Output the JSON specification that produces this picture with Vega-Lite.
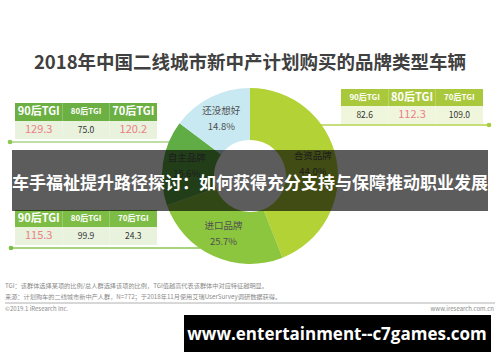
{
  "$schema": "https://vega.github.io/schema/vega-lite/v6.json",
  "width": 500,
  "height": 362,
  "autosize": {"type": "fit", "contains": "padding"},
  "padding": 0,
  "background": "white",
  "config": {"view": {"stroke": null}, "font": "Noto Sans CJK SC"},
  "datasets": {
    "share": [
      {"brand": "合资品牌", "pct": 44.0, "label": "44.0%"},
      {"brand": "进口品牌", "pct": 25.7, "label": "25.7%"},
      {"brand": "自主品牌", "pct": 15.6, "label": "15.6%"},
      {"brand": "还没想好", "pct": 14.8, "label": "14.8%"}
    ],
    "tgi": [
      {"panel": "自主品牌", "gen": "90后TGI", "tgi": 129.3},
      {"panel": "自主品牌", "gen": "80后TGI", "tgi": 75.0},
      {"panel": "自主品牌", "gen": "70后TGI", "tgi": 120.2},
      {"panel": "合资品牌", "gen": "90后TGI", "tgi": 82.6},
      {"panel": "合资品牌", "gen": "80后TGI", "tgi": 112.3},
      {"panel": "合资品牌", "gen": "70后TGI", "tgi": 109.0},
      {"panel": "进口品牌", "gen": "90后TGI", "tgi": 115.3},
      {"panel": "进口品牌", "gen": "80后TGI", "tgi": 99.9},
      {"panel": "进口品牌", "gen": "70后TGI", "tgi": 24.3}
    ],
    "one": [{"k": 1}]
  },
  "layer": [
    {
      "data": {"name": "one"},
      "layer": [
        {"mark": {"type": "text", "fontSize": 18.5, "fontWeight": "bold", "color": "#404040", "font": "Noto Sans CJK SC"},
         "encoding": {"x": {"datum": 250, "type": "quantitative", "scale": {"domain": [0, 500], "nice": false, "zero": false}, "axis": null},
                      "y": {"datum": 63, "type": "quantitative", "scale": {"domain": [0, 362], "nice": false, "zero": false, "reverse": true}, "axis": null},
                      "text": {"value": "2018年中国二线城市新中产计划购买的品牌类型车辆"}}},
        {"mark": {"type": "rule", "color": "#a8d28a", "strokeWidth": 1.5},
         "encoding": {"x": {"datum": 10, "type": "quantitative"}, "x2": {"datum": 185}, "y": {"datum": 142, "type": "quantitative"}}},
        {"mark": {"type": "rule", "color": "#b4d24e", "strokeWidth": 1.5},
         "encoding": {"x": {"datum": 315, "type": "quantitative"}, "x2": {"datum": 489}, "y": {"datum": 125, "type": "quantitative"}}},
        {"mark": {"type": "rule", "color": "#8cc653", "strokeWidth": 1.5},
         "encoding": {"x": {"datum": 11, "type": "quantitative"}, "x2": {"datum": 200}, "y": {"datum": 248, "type": "quantitative"}}},
        {"mark": {"type": "point", "filled": true, "size": 22, "color": "#8cc653", "opacity": 1},
         "encoding": {"x": {"datum": 10, "type": "quantitative"}, "y": {"datum": 142, "type": "quantitative"}}},
        {"mark": {"type": "point", "filled": true, "size": 22, "color": "#a9cc3c", "opacity": 1},
         "encoding": {"x": {"datum": 489, "type": "quantitative"}, "y": {"datum": 125, "type": "quantitative"}}},
        {"mark": {"type": "point", "filled": true, "size": 22, "color": "#7dbd45", "opacity": 1},
         "encoding": {"x": {"datum": 11, "type": "quantitative"}, "y": {"datum": 248, "type": "quantitative"}}}
      ]
    },
    {
      "data": {"name": "tgi"},
      "transform": [{"filter": "datum.panel === '自主品牌'"}],
      "layer": [
        {"mark": {"type": "rect", "color": "#6cb044"},
         "encoding": {"x": {"field": "gen", "type": "nominal", "sort": ["90后TGI", "80后TGI", "70后TGI"], "scale": {"type": "band", "range": [15, 157], "paddingInner": 0, "paddingOuter": 0}, "axis": null},
                      "y": {"datum": 103, "type": "quantitative", "scale": {"domain": [0, 362], "nice": false, "zero": false, "reverse": true}, "axis": null},
                      "y2": {"datum": 121}}},
        {"mark": {"type": "rect", "color": "#e8f2dc"},
         "encoding": {"x": {"field": "gen", "type": "nominal", "sort": ["90后TGI", "80后TGI", "70后TGI"]},
                      "y": {"datum": 121, "type": "quantitative"}, "y2": {"datum": 139}}},
        {"mark": {"type": "text", "color": "white", "fontWeight": "bold"},
         "encoding": {"x": {"field": "gen", "type": "nominal", "sort": ["90后TGI", "80后TGI", "70后TGI"]},
                      "y": {"datum": 112, "type": "quantitative"},
                      "text": {"field": "gen"},
                      "size": {"condition": {"test": "datum.tgi > 110", "value": 11}, "value": 8}}},
        {"mark": {"type": "text"},
         "encoding": {"x": {"field": "gen", "type": "nominal", "sort": ["90后TGI", "80后TGI", "70后TGI"]},
                      "y": {"datum": 130, "type": "quantitative"},
                      "text": {"field": "tgi", "format": ".1f"},
                      "color": {"condition": {"test": "datum.tgi > 110", "value": "#ee7d88"}, "value": "#333333"},
                      "size": {"condition": {"test": "datum.tgi > 110", "value": 11}, "value": 8.5}}}
      ]
    },
    {
      "data": {"name": "tgi"},
      "transform": [{"filter": "datum.panel === '合资品牌'"}],
      "layer": [
        {"mark": {"type": "rect", "color": "#aac83c"},
         "encoding": {"x": {"field": "gen", "type": "nominal", "sort": ["90后TGI", "80后TGI", "70后TGI"], "scale": {"type": "band", "range": [341, 483], "paddingInner": 0, "paddingOuter": 0}, "axis": null},
                      "y": {"datum": 89, "type": "quantitative", "scale": {"domain": [0, 362], "nice": false, "zero": false, "reverse": true}, "axis": null},
                      "y2": {"datum": 106}}},
        {"mark": {"type": "rect", "color": "#f0f6dc"},
         "encoding": {"x": {"field": "gen", "type": "nominal", "sort": ["90后TGI", "80后TGI", "70后TGI"]},
                      "y": {"datum": 106, "type": "quantitative"}, "y2": {"datum": 124}}},
        {"mark": {"type": "text", "color": "white", "fontWeight": "bold"},
         "encoding": {"x": {"field": "gen", "type": "nominal", "sort": ["90后TGI", "80后TGI", "70后TGI"]},
                      "y": {"datum": 97.5, "type": "quantitative"},
                      "text": {"field": "gen"},
                      "size": {"condition": {"test": "datum.tgi > 110", "value": 11}, "value": 8}}},
        {"mark": {"type": "text"},
         "encoding": {"x": {"field": "gen", "type": "nominal", "sort": ["90后TGI", "80后TGI", "70后TGI"]},
                      "y": {"datum": 115, "type": "quantitative"},
                      "text": {"field": "tgi", "format": ".1f"},
                      "color": {"condition": {"test": "datum.tgi > 110", "value": "#ee7d88"}, "value": "#333333"},
                      "size": {"condition": {"test": "datum.tgi > 110", "value": 11}, "value": 8.5}}}
      ]
    },
    {
      "data": {"name": "tgi"},
      "transform": [{"filter": "datum.panel === '进口品牌'"}],
      "layer": [
        {"mark": {"type": "rect", "color": "#7dbd45"},
         "encoding": {"x": {"field": "gen", "type": "nominal", "sort": ["90后TGI", "80后TGI", "70后TGI"], "scale": {"type": "band", "range": [15, 157], "paddingInner": 0, "paddingOuter": 0}, "axis": null},
                      "y": {"datum": 210, "type": "quantitative", "scale": {"domain": [0, 362], "nice": false, "zero": false, "reverse": true}, "axis": null},
                      "y2": {"datum": 227}}},
        {"mark": {"type": "rect", "color": "#e8f2dc"},
         "encoding": {"x": {"field": "gen", "type": "nominal", "sort": ["90后TGI", "80后TGI", "70后TGI"]},
                      "y": {"datum": 227, "type": "quantitative"}, "y2": {"datum": 245}}},
        {"mark": {"type": "text", "color": "white", "fontWeight": "bold"},
         "encoding": {"x": {"field": "gen", "type": "nominal", "sort": ["90后TGI", "80后TGI", "70后TGI"]},
                      "y": {"datum": 218.5, "type": "quantitative"},
                      "text": {"field": "gen"},
                      "size": {"condition": {"test": "datum.tgi > 110", "value": 11}, "value": 8}}},
        {"mark": {"type": "text"},
         "encoding": {"x": {"field": "gen", "type": "nominal", "sort": ["90后TGI", "80后TGI", "70后TGI"]},
                      "y": {"datum": 236, "type": "quantitative"},
                      "text": {"field": "tgi", "format": ".1f"},
                      "color": {"condition": {"test": "datum.tgi > 110", "value": "#ee7d88"}, "value": "#333333"},
                      "size": {"condition": {"test": "datum.tgi > 110", "value": 11}, "value": 8.5}}}
      ]
    },
    {
      "data": {"name": "share"},
      "layer": [
        {"mark": {"type": "arc", "outerRadius": 88, "innerRadius": 36},
         "encoding": {"theta": {"field": "pct", "type": "quantitative", "stack": true},
                      "order": {"field": "pct", "sort": "descending"},
                      "color": {"field": "brand", "type": "nominal", "scale": {"domain": ["合资品牌", "进口品牌", "自主品牌", "还没想好"], "range": ["#b2d235", "#8cc63f", "#60ad46", "#c9e9f2"]}, "legend": null},
                      "x": {"datum": 250, "type": "quantitative", "scale": {"domain": [0, 500], "nice": false, "zero": false}, "axis": null},
                      "y": {"datum": 176, "type": "quantitative", "scale": {"domain": [0, 362], "nice": false, "zero": false, "reverse": true}, "axis": null}}},
        {"mark": {"type": "text", "radius": 64, "dy": -8, "fontSize": 9.5, "color": "#505050"},
         "encoding": {"theta": {"field": "pct", "type": "quantitative", "stack": true},
                      "order": {"field": "pct", "sort": "descending"},
                      "text": {"field": "brand"},
                      "x": {"datum": 250, "type": "quantitative"},
                      "y": {"datum": 176, "type": "quantitative"}}},
        {"mark": {"type": "text", "radius": 64, "dy": 8, "fontSize": 9.5, "color": "#505050"},
         "encoding": {"theta": {"field": "pct", "type": "quantitative", "stack": true},
                      "order": {"field": "pct", "sort": "descending"},
                      "text": {"field": "label"},
                      "x": {"datum": 250, "type": "quantitative"},
                      "y": {"datum": 176, "type": "quantitative"}}}
      ]
    },
    {
      "data": {"name": "one"},
      "layer": [
        {"mark": {"type": "rect", "color": "#000000", "opacity": 0.64},
         "encoding": {"x": {"datum": 12, "type": "quantitative", "scale": {"domain": [0, 500], "nice": false, "zero": false}, "axis": null},
                      "x2": {"datum": 488},
                      "y": {"datum": 150, "type": "quantitative", "scale": {"domain": [0, 362], "nice": false, "zero": false, "reverse": true}, "axis": null},
                      "y2": {"datum": 211}}},
        {"mark": {"type": "text", "color": "white", "fontWeight": "bold", "fontSize": 17, "font": "Noto Sans CJK SC"},
         "encoding": {"x": {"datum": 250, "type": "quantitative"}, "y": {"datum": 184, "type": "quantitative"},
                      "text": {"value": "车手福祉提升路径探讨：如何获得充分支持与保障推动职业发展"}}},
        {"mark": {"type": "text", "align": "left", "fontSize": 6.2, "color": "#8a8a8a"},
         "encoding": {"x": {"datum": 5, "type": "quantitative"}, "y": {"datum": 286, "type": "quantitative"},
                      "text": {"value": "TGI：该群体选择某项的比例/总人群选择该项的比例，TGI值越高代表该群体中对应特征越明显。"}}},
        {"mark": {"type": "text", "align": "left", "fontSize": 6.2, "color": "#8a8a8a"},
         "encoding": {"x": {"datum": 5, "type": "quantitative"}, "y": {"datum": 297, "type": "quantitative"},
                      "text": {"value": "来源：计划购车的二线城市新中产人群，N=772；于2018年11月使用艾瑞UserSurvey调研数据获得。"}}},
        {"mark": {"type": "rule", "color": "#b0b0b0", "strokeWidth": 1},
         "encoding": {"x": {"datum": 5, "type": "quantitative"}, "x2": {"datum": 495}, "y": {"datum": 303, "type": "quantitative"}}},
        {"mark": {"type": "text", "align": "left", "fontSize": 6, "color": "#8a8a8a"},
         "encoding": {"x": {"datum": 5, "type": "quantitative"}, "y": {"datum": 309, "type": "quantitative"},
                      "text": {"value": "©2019.1 iResearch Inc."}}},
        {"mark": {"type": "text", "align": "right", "fontSize": 6, "color": "#8a8a8a"},
         "encoding": {"x": {"datum": 494, "type": "quantitative"}, "y": {"datum": 309, "type": "quantitative"},
                      "text": {"value": "www.iresearch.com.cn"}}},
        {"mark": {"type": "rect", "color": "#000000"},
         "encoding": {"x": {"datum": 184, "type": "quantitative"}, "x2": {"datum": 491},
                      "y": {"datum": 315, "type": "quantitative"}, "y2": {"datum": 352}}},
        {"mark": {"type": "text", "color": "white", "fontWeight": "bold", "fontSize": 17, "font": "Open Sans"},
         "encoding": {"x": {"datum": 337, "type": "quantitative"}, "y": {"datum": 335, "type": "quantitative"},
                      "text": {"value": "www.entertainment--c7games.com"}}}
      ]
    }
  ],
  "resolve": {"scale": {"x": "independent", "y": "independent", "color": "independent", "theta": "independent", "size": "independent"}}
}
